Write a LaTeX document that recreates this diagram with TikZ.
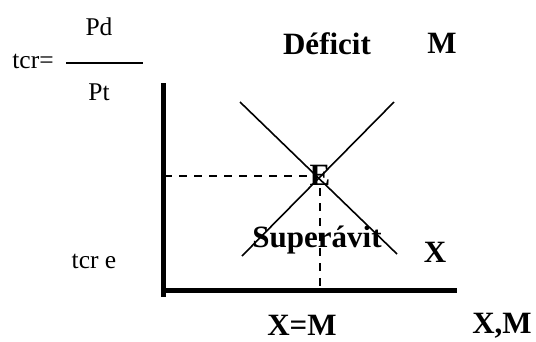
\documentclass[tikz,border=0pt]{standalone}
\usepackage{fontspec}
\setmainfont{Liberation Serif}
\usetikzlibrary{positioning}

\begin{document}
\begin{tikzpicture}[
    x=1pt, y=-1pt,
    lbl/.style={inner sep=0pt, anchor=base, font=\fontsize{25.5}{28}\selectfont},
    blbl/.style={inner sep=0pt, anchor=base, font=\fontsize{31}{34}\selectfont\bfseries},
    axisline/.style={line width=5pt},
    curve/.style={line width=1.6pt},
    guide/.style={line width=1.8pt, dash pattern=on 8pt off 7pt}
]
\useasboundingbox (0,0) rectangle (536,341);

% Axis label (fraction)
\node[lbl] (tcr) at (33,68) {tcr=};
\node[lbl] (pd) at (99,35) {Pd};
\node[lbl] (pt) at (99,100) {Pt};
\coordinate (fracl) at (66,63);
\coordinate (fracr) at (143,63);
\draw[line width=1.3pt] (fracl) -- (fracr);

% Axes
\coordinate (ytop) at (163,83);
\coordinate (ybot) at (163,297);
\coordinate (orig) at (163,290);
\coordinate (xend) at (457,290);
\draw[axisline] (ytop) -- (ybot);
\draw[axisline] (orig) -- (xend);

% Curves M and X
\coordinate (m1) at (240,102);
\coordinate (m2) at (397,254);
\coordinate (x1) at (242,256);
\coordinate (x2) at (394,102);
\draw[curve] (m1) -- (m2);
\draw[curve] (x1) -- (x2);

% Equilibrium guides
\coordinate (hl) at (164,176);
\coordinate (hr) at (310,176);
\coordinate (vt) at (320,188);
\coordinate (vb) at (320,290);
\draw[guide] (hl) -- (hr);
\draw[guide] (vt) -- (vb);

% Labels
\node[blbl] (deficit) at (327,54) {Déficit};
\node[blbl] (mlbl) at (442,53) {M};
\node[blbl] (elbl) at (320,185) {E};
\node[blbl] (superavit) at (317,247) {Superávit};
\node[blbl] (xlbl) at (435,262) {X};
\node[lbl] (tcre) at (94,268) {tcr e};
\node[blbl] (xeqm) at (302,335) {X=M};
\node[blbl] (xm) at (502,333) {X,M};

\end{tikzpicture}
\end{document}
